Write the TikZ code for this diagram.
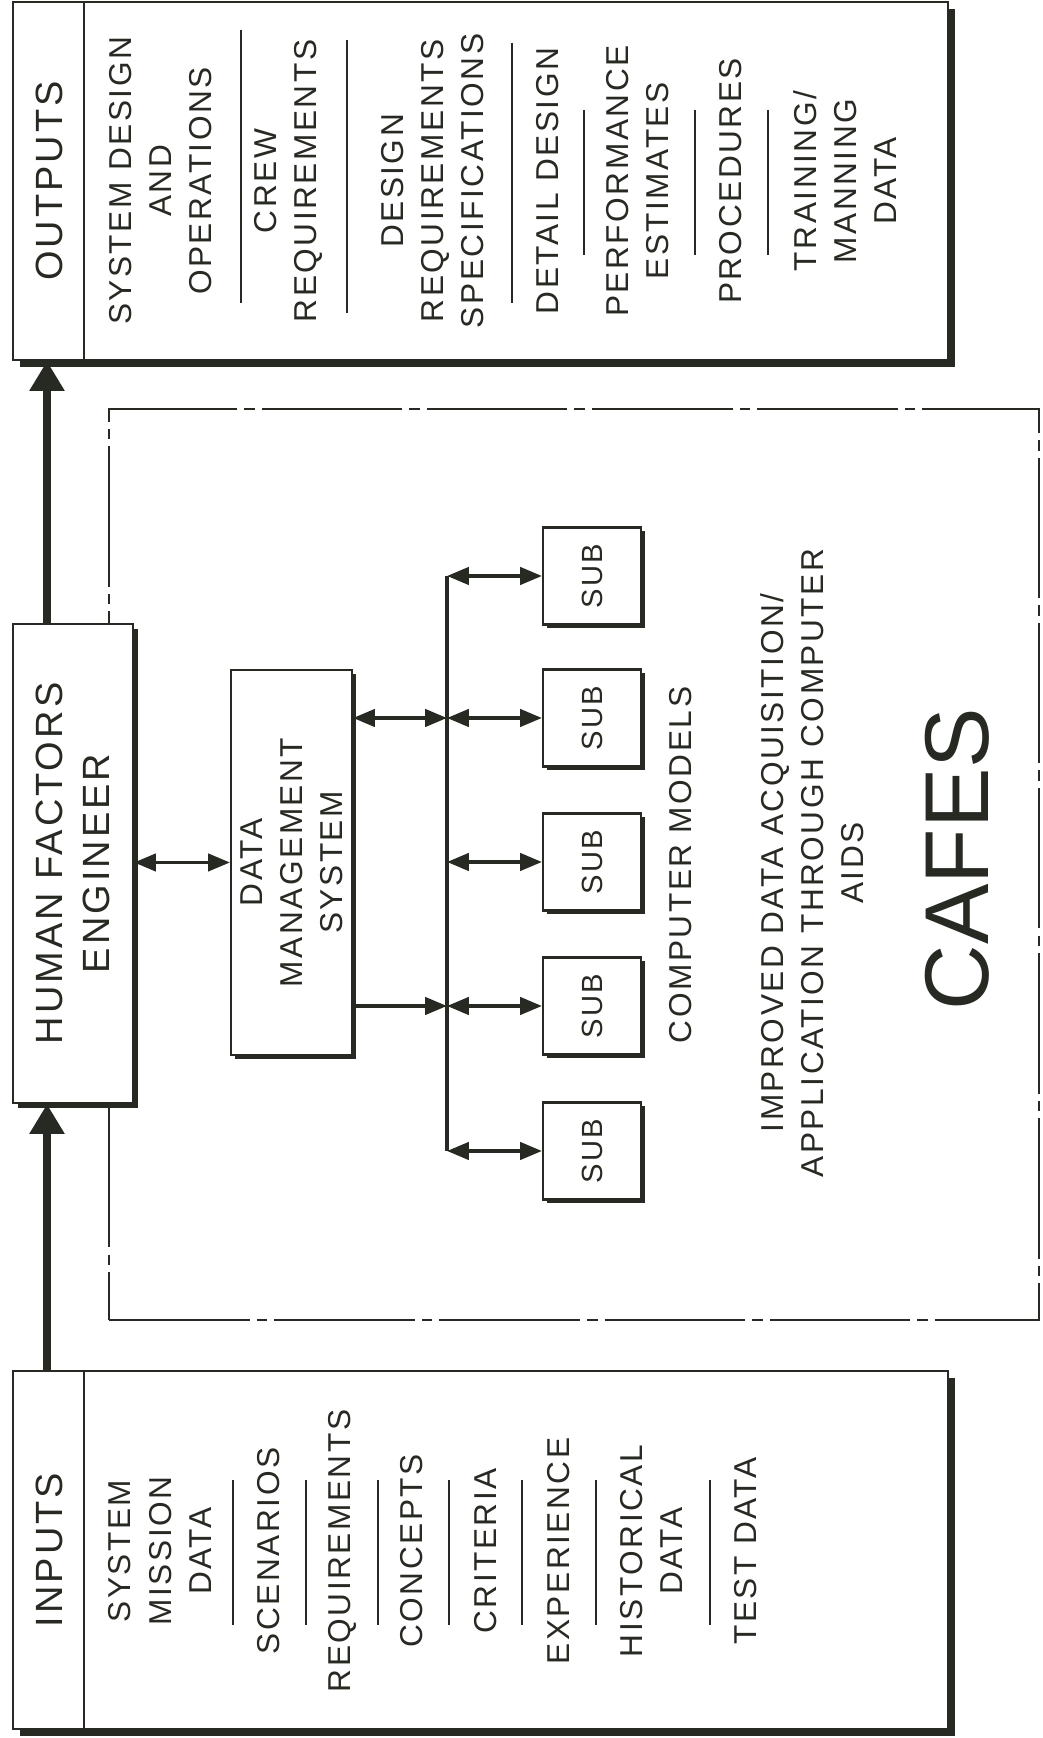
\documentclass[tikz,border=0pt]{standalone}
\usepackage{fontspec}
\setmainfont{Liberation Sans}[LetterSpace=8]
\newfontfamily\cafesfont{Liberation Sans}
\usetikzlibrary{arrows.meta,shadows}
\definecolor{ink}{RGB}{38,42,34}
\tikzset{
  >={Triangle[length=6.2pt,width=4.9pt]},
  panel/.style={draw=ink,fill=white,line width=0.6pt,inner sep=0pt,
    drop shadow={shadow xshift=#1,shadow yshift=-#1,opacity=1,fill=ink}},
  panel/.default=1.2pt,
  vtext/.style={rotate=90,align=center,text=ink,inner sep=0pt,
    font=\fontsize{9}{11.4}\selectfont},
  vtitle/.style={vtext,font=\fontsize{10.8}{13.6}\selectfont},
  rule/.style={draw=ink,line width=0.6pt},
  flow/.style={draw=ink,line width=1pt},
  bigflow/.style={draw=ink,line width=2.2pt,-{Triangle[length=8.5pt,width=9.5pt]}},
  frame/.style={draw=ink,line width=0.6pt,inner sep=0pt,
    dash pattern=on 40pt off 2pt on 3pt off 2pt},
  subbox/.style={panel=1pt,minimum width=0.98cm,minimum height=0.97cm},
}

\begin{document}
\begin{tikzpicture}
  \useasboundingbox (0,0) rectangle (10.43,17.38);
  % CAFES area
  \node[frame,minimum width=9.30cm,minimum height=9.11cm] (frame) at (5.74,8.735) {};
  % outputs
  \node[panel=2pt,minimum width=9.35cm,minimum height=3.58cm] (outputs) at (4.805,15.57) {};
  \draw[rule] ([xshift=0.72cm]outputs.north west) -- ([xshift=0.72cm]outputs.south west);
  \node[vtitle] (outtitle) at (0.49,15.57) {OUTPUTS};
  \node[vtext] (o1) at (1.61,15.57) {SYSTEM DESIGN\\AND\\OPERATIONS};
  \node[vtext] (o2) at (2.88,15.57) {CREW\\REQUIREMENTS};
  \node[vtext] (o3) at (4.33,15.57) {DESIGN\\REQUIREMENTS\\SPECIFICATIONS};
  \node[vtext] (o4) at (5.48,15.57) {DETAIL DESIGN};
  \node[vtext] (o5) at (6.38,15.57) {PERFORMANCE\\ESTIMATES};
  \node[vtext] (o6) at (7.31,15.57) {PROCEDURES};
  \node[vtext] (o7) at (8.45,15.57) {TRAINING/\\MANNING\\DATA};
  \foreach \x/\a/\b in {2.41/17.08/14.35,3.47/16.98/14.25,5.12/16.95/14.35,
      5.84/16.28/14.83,6.95/16.28/14.83,7.68/16.28/14.83}
    \draw[rule] (\x,\a) -- (\x,\b);
  % inputs
  \node[panel=2pt,minimum width=9.35cm,minimum height=3.58cm] (inputs) at (4.805,1.88) {};
  \draw[rule] ([xshift=0.72cm]inputs.north west) -- ([xshift=0.72cm]inputs.south west);
  \node[vtitle] (intitle) at (0.49,1.88) {INPUTS};
  \node[vtext] (i1) at (1.60,1.87) {SYSTEM\\MISSION\\DATA};
  \node[vtext] (i2) at (2.69,1.87) {SCENARIOS};
  \node[vtext] (i3) at (3.42,1.87) {REQUIREMENTS};
  \node[vtext] (i4) at (4.12,1.87) {CONCEPTS};
  \node[vtext] (i5) at (4.86,1.87) {CRITERIA};
  \node[vtext] (i6) at (5.59,1.87) {EXPERIENCE};
  \node[vtext] (i7) at (6.51,1.87) {HISTORICAL\\DATA};
  \node[vtext] (i8) at (7.46,1.87) {TEST DATA};
  \foreach \x in {2.33,3.06,3.78,4.49,5.22,5.96,7.10}
    \draw[rule] (\x,2.58) -- (\x,1.13);
  % engineer and data management
  \node[panel=1.4pt,minimum width=1.2cm,minimum height=4.79cm] (hfe) at (0.73,8.745) {};
  \node[vtitle] (hfe-t) at (hfe) {HUMAN FACTORS\\ENGINEER};
  \node[panel,minimum width=1.21cm,minimum height=3.85cm] (dms) at (2.915,8.755) {};
  \node[vtext] (dms-t) at (dms) {DATA\\MANAGEMENT\\SYSTEM};
  % computer models
  \foreach \i/\y in {1/11.62,2/10.20,3/8.76,4/7.32,5/5.87}{
    \node[subbox] (sub\i) at (5.92,\y) {};
    \node[vtext,font=\fontsize{8.3}{10}\selectfont] (sub\i-t) at (sub\i) {SUB};
  }
  \node[vtext] (models) at (6.81,8.73) {COMPUTER MODELS};
  \node[vtext] (aids) at (8.12,8.75) {IMPROVED DATA ACQUISITION/\\APPLICATION THROUGH COMPUTER\\AIDS};
  \node[rotate=90,text=ink,inner sep=0pt,font=\cafesfont\fontsize{25.8}{30}\selectfont] (cafes) at (9.57,8.79) {CAFES};
  % connectors
  \coordinate (spine) at (0.47,0);
  \coordinate (bus) at (4.47,0);
  \draw[bigflow] (inputs.north -| spine) -- (hfe.south -| spine);
  \draw[bigflow] (hfe.north -| spine) -- (outputs.south -| spine);
  \draw[flow,<->] (hfe.east |- dms) -- (dms.west);
  \draw[flow] (bus |- sub1) -- (bus |- sub5);
  \foreach \i in {1,...,5}
    \draw[flow,<->] (bus |- sub\i) -- (sub\i.west);
  \draw[flow,<->] (dms.east |- sub2) -- (bus |- sub2);
  \draw[flow,->] (dms.east |- sub4) -- (bus |- sub4);
\end{tikzpicture}
\end{document}
